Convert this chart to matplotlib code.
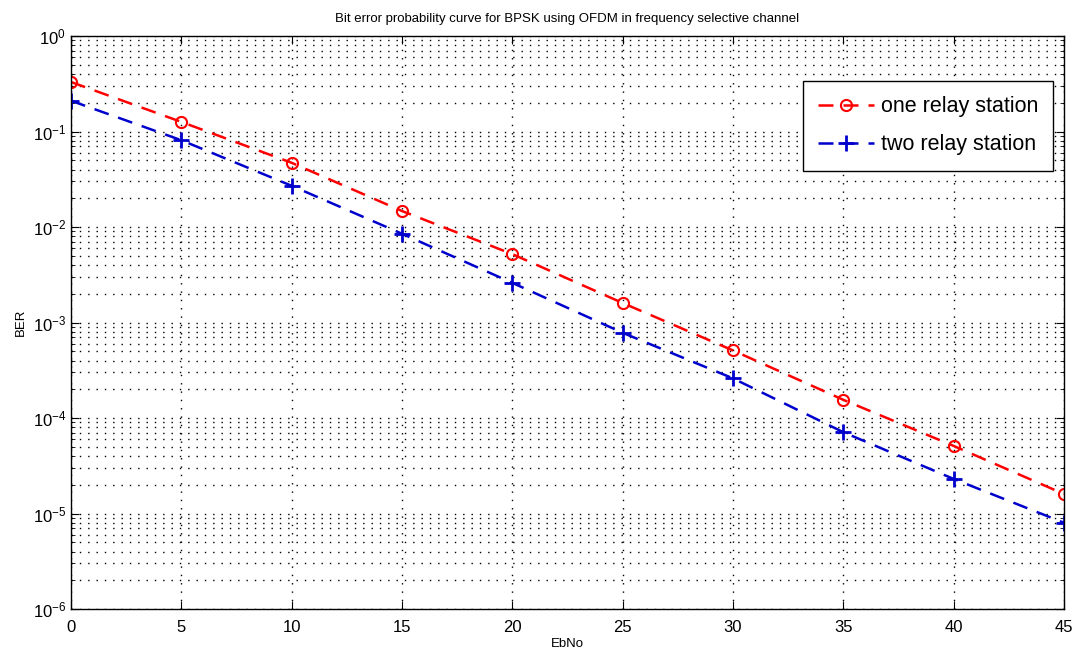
import numpy as np
import matplotlib
matplotlib.use("Agg")
import matplotlib.pyplot as plt
from matplotlib.ticker import LogLocator, FixedLocator, NullFormatter

ebno = [0, 5, 10, 15, 20, 25, 30, 35, 40, 45]
ber_one = [0.33, 0.126, 0.047, 0.0147, 0.0052, 0.0016, 5.1e-4, 1.55e-4, 5.1e-5, 1.6e-5]
ber_two = [0.21, 0.081, 0.027, 0.0085, 0.0026, 7.8e-4, 2.6e-4, 7.1e-5, 2.3e-5, 8e-6]
labels = ["one relay station", "two relay station"]

plt.rcParams['font.family'] = ['Liberation Sans', 'DejaVu Sans']
fig = plt.figure(figsize=(10.77, 6.55), dpi=100)
ax = fig.add_axes([71/1077, 1 - 609/655, (1064-71)/1077, (609-36)/655])

ax.semilogy(ebno, ber_one, color='red', linestyle=(0, (6, 4)), linewidth=1.8,
            marker='o', markersize=8, markerfacecolor='none', markeredgewidth=1.5,
            label=labels[0])
ax.semilogy(ebno, ber_two, color='#0000cc', linestyle=(0, (6, 4)), linewidth=1.8,
            marker='+', markersize=11, markeredgewidth=2, label=labels[1])

ax.set_xlim(0, 45)
ax.set_ylim(1e-6, 1)
ax.xaxis.set_major_locator(FixedLocator(ebno))
ax.yaxis.set_major_locator(LogLocator(base=10, numticks=10))
ax.yaxis.set_minor_locator(LogLocator(base=10, subs=np.arange(2, 10), numticks=20))
ax.yaxis.set_minor_formatter(NullFormatter())
ax.tick_params(which='both', direction='in', top=True, right=True, labelsize=12)
ax.tick_params(axis='x', pad=8)
ax.tick_params(which='major', length=6)
ax.tick_params(which='minor', length=3)
ax.grid(True, which='major', linestyle=(0, (1, 5)), color='black', linewidth=1.0)
ax.grid(True, which='minor', axis='y', linestyle=(0, (1, 5)), color='black', linewidth=1.0)
for s in ax.spines.values():
    s.set_linewidth(1.0)

ax.set_title("Bit error probability curve for BPSK using OFDM in frequency selective channel",
             fontsize=9.5, pad=10)
ax.set_xlabel("EbNo", fontsize=9.5, labelpad=2)
ax.set_ylabel("BER", fontsize=9.5)

leg = ax.legend(loc='upper right', bbox_to_anchor=(1.0, 0.94), fontsize=15.5,
                fancybox=False, framealpha=1, edgecolor='black', borderpad=0.7,
                handlelength=2.6, handletextpad=0.3, labelspacing=0.8)
leg.get_frame().set_linewidth(1.0)

fig.savefig("out.png", dpi=100)
